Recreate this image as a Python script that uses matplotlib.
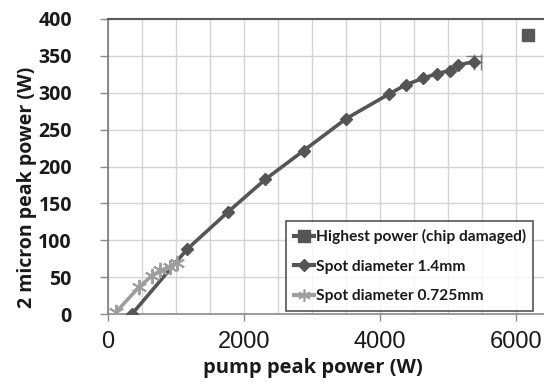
import matplotlib
matplotlib.use("Agg")
import matplotlib.pyplot as plt
from matplotlib.lines import Line2D

# ---- data ----
spot14_x = [353, 1162, 1760, 2314, 2877, 3505, 4128, 4382, 4632, 4838, 5025, 5147, 5377]
spot14_y = [0, 87.7, 138, 182.6, 221.5, 265, 298, 311, 319.5, 326, 330, 337.6, 342]
spot0725_x = [123, 461, 647, 770, 917, 1015]
spot0725_y = [3, 37, 52, 59, 64, 69]
highest_x = [6180]
highest_y = [378]
err_x = [5377]
err_y = [342]
err_xplus = [105]
err_yplus = [8]

x_ticks = [0, 2000, 4000, 6000]
y_ticks = [0, 50, 100, 150, 200, 250, 300, 350, 400]

labels = ["Highest power (chip damaged)", "Spot diameter 1.4mm", "Spot diameter 0.725mm"]

dark = "#555555"
light = "#9e9e9e"

fig = plt.figure(figsize=(5.44, 3.85), dpi=100)
ax = fig.add_axes([108/544, 1-314/385, 1-108/544, (314-19)/385])
ax.set_xlim(0, 6412)
ax.set_ylim(0, 400)

ax.set_xticks(range(0, 6500, 500), minor=True)
ax.set_xticks(x_ticks)
ax.set_yticks(y_ticks)
ax.grid(True, which="both", color="#d4d4d4", linewidth=1.0)
ax.set_axisbelow(True)

ax.spines["right"].set_visible(False)
ax.spines["top"].set_color("#5a5a5a")
ax.spines["top"].set_linewidth(1.5)
ax.spines["left"].set_color("#7a7a7a")
ax.spines["left"].set_linewidth(1.2)
ax.spines["bottom"].set_color("#8a8a8a")
ax.spines["bottom"].set_linewidth(1.2)

ax.tick_params(axis="y", which="major", length=6, width=1, color="#8a8a8a", pad=20)
ax.tick_params(axis="x", which="major", length=5, width=1, color="#8a8a8a", pad=7)
ax.tick_params(axis="x", which="minor", length=0)

ax.set_yticklabels([str(v) for v in y_ticks], fontsize=14, fontweight="bold",
                   family=["Open Sans", "DejaVu Sans"], color="#1a1a1a")
ax.set_xticklabels([str(v) for v in x_ticks], fontsize=17,
                   family=["Liberation Sans", "DejaVu Sans"], color="#1a1a1a")

ax.set_ylabel("2 micron peak power (W)", fontsize=14, fontweight="bold",
              family=["Open Sans", "DejaVu Sans"], color="#1a1a1a")
ax.yaxis.set_label_coords(-0.163, 0.43)
ax.set_xlabel("pump peak power (W)", fontsize=14.5, fontweight="bold",
              family=["Open Sans", "DejaVu Sans"], color="#1a1a1a")
ax.xaxis.set_label_coords(0.471, -0.148)

# series
ax.plot(spot14_x, spot14_y, color=dark, linewidth=2.6, marker="D", markersize=6,
        markerfacecolor=dark, markeredgecolor=dark, zorder=3)
ax.plot(spot0725_x, spot0725_y, color=light, linewidth=2.6, marker=(6, 2, 0),
        markersize=11, markeredgewidth=1.4, markeredgecolor=light, zorder=4)
ax.errorbar(err_x, err_y, xerr=[[0], err_xplus], yerr=[[0], err_yplus], fmt="none",
            ecolor="#7a7a7a", elinewidth=1.0, capsize=6, capthick=1.0, zorder=2)
ax.plot(highest_x, highest_y, linestyle="none", marker="s", markersize=9,
        color="#585858", clip_on=False, zorder=5)

handles = [
    Line2D([], [], color=dark, linewidth=3, marker="s", markersize=9),
    Line2D([], [], color=dark, linewidth=3, marker="D", markersize=6),
    Line2D([], [], color=light, linewidth=3, marker=(6, 2, 0), markersize=9, markeredgewidth=1.2),
]
leg = ax.legend(handles, labels, loc="lower left", bbox_to_anchor=((286-108)/436, 3/295),
                bbox_transform=ax.transAxes,
                prop={"family": ["Lato", "DejaVu Sans"], "weight": "bold", "size": 11.2},
                frameon=True, fancybox=False, handlelength=1.3, handletextpad=0.1,
                labelspacing=1.0, borderpad=0.5, borderaxespad=0)
leg.get_frame().set_edgecolor("#2a2a2a")
leg.get_frame().set_linewidth(1.2)
for t in leg.get_texts():
    t.set_color("#1a1a1a")

fig.savefig("out.png", dpi=100)
